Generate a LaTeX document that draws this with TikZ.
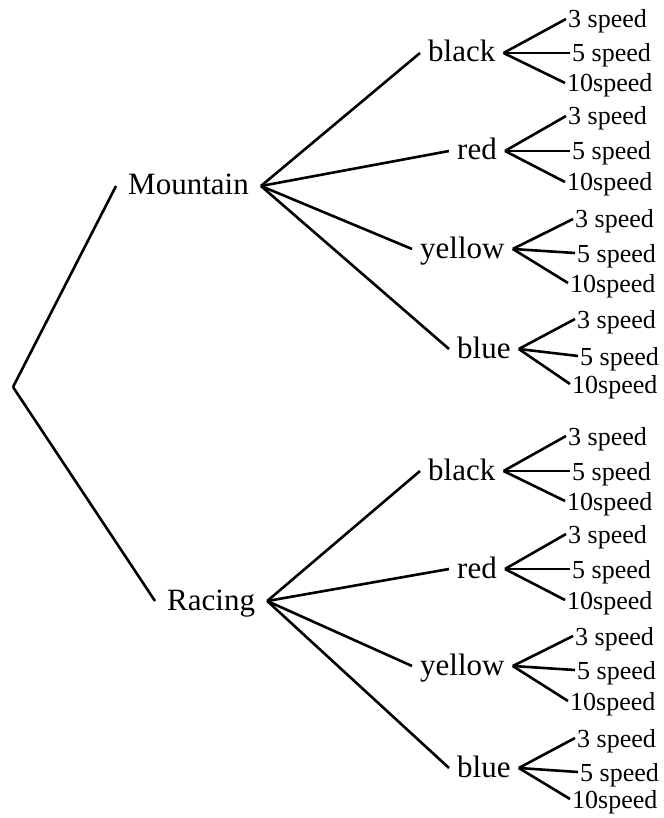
\documentclass[tikz,border=0pt]{standalone}
\usepackage{fontspec}
\setmainfont{Liberation Serif}

\begin{document}
\begin{tikzpicture}[
  x=1pt, y=-1pt,
  %% bike type labels
  typ/.style={
    font=\fontsize{31}{34}\selectfont,
    anchor=base west, inner xsep=12pt, inner ysep=0pt,
    text height=18pt, text depth=0pt
  },
  %% colour labels
  lvl/.style={
    font=\fontsize{31}{34}\selectfont,
    anchor=base west, inner xsep=8pt, inner ysep=0pt,
    text height=18pt, text depth=0pt
  },
  %% gear labels at the leaves
  spd/.style={
    font=\fontsize{26}{28}\selectfont,
    anchor=base west, inner xsep=2pt, inner ysep=0pt,
    text height=18pt, text depth=0pt
  },
  %% tree branches
  br/.style={line width=2.6pt},
]
\useasboundingbox (0,0) rectangle (663,818);

%%── Root and bike types ──────────────────────────────────────────────────────
\coordinate (root) at (13,387);
\node[typ] (mtn) at (116,195) {Mountain};
\node[typ] (rac) at (155,610) {Racing};

\draw[br] (root) -- (mtn.west);
\draw[br] (root) -- (rac.west);

%%══════════════════════════════════════════════════════════════════════════════
%%  MOUNTAIN
%%══════════════════════════════════════════════════════════════════════════════
\node[lvl] (m-black)  at (420,62)  {black};
\node[lvl] (m-red)    at (449,160) {red};
\node[lvl] (m-yellow) at (412,258) {yellow};
\node[lvl] (m-blue)   at (449,358) {blue};

\node[spd] (m-black-3)   at (566,28)  {3 speed};
\node[spd] (m-black-5)   at (570,62)  {5 speed};
\node[spd] (m-black-10)  at (565,92)  {10speed};

\node[spd] (m-red-3)     at (566,125) {3 speed};
\node[spd] (m-red-5)     at (570,160) {5 speed};
\node[spd] (m-red-10)    at (565,191) {10speed};

\node[spd] (m-yellow-3)  at (573,228) {3 speed};
\node[spd] (m-yellow-5)  at (575,262) {5 speed};
\node[spd] (m-yellow-10) at (568,292) {10speed};

\node[spd] (m-blue-3)    at (575,328) {3 speed};
\node[spd] (m-blue-5)    at (578,365) {5 speed};
\node[spd] (m-blue-10)   at (570,393) {10speed};

%%══════════════════════════════════════════════════════════════════════════════
%%  RACING
%%══════════════════════════════════════════════════════════════════════════════
\node[lvl] (r-black)  at (420,480) {black};
\node[lvl] (r-red)    at (449,578) {red};
\node[lvl] (r-yellow) at (412,675) {yellow};
\node[lvl] (r-blue)   at (449,777) {blue};

\node[spd] (r-black-3)   at (566,445) {3 speed};
\node[spd] (r-black-5)   at (570,480) {5 speed};
\node[spd] (r-black-10)  at (565,510) {10speed};

\node[spd] (r-red-3)     at (566,543) {3 speed};
\node[spd] (r-red-5)     at (570,578) {5 speed};
\node[spd] (r-red-10)    at (565,609) {10speed};

\node[spd] (r-yellow-3)  at (573,645) {3 speed};
\node[spd] (r-yellow-5)  at (575,679) {5 speed};
\node[spd] (r-yellow-10) at (568,710) {10speed};

\node[spd] (r-blue-3)    at (575,747) {3 speed};
\node[spd] (r-blue-5)    at (578,781) {5 speed};
\node[spd] (r-blue-10)   at (570,808) {10speed};

%%── Type → colour branches ──────────────────────────────────────────────────
\draw[br] (mtn.east) -- (m-black.west);
\draw[br] (mtn.east) -- (m-red.west);
\draw[br] (mtn.east) -- (m-yellow.west);
\draw[br] (mtn.east) -- (m-blue.west);

\draw[br] (rac.east) -- (r-black.west);
\draw[br] (rac.east) -- (r-red.west);
\draw[br] (rac.east) -- (r-yellow.west);
\draw[br] (rac.east) -- (r-blue.west);

%%── Colour → gear branches ──────────────────────────────────────────────────
\draw[br] (m-black.east)  -- (m-black-3.west);
\draw[br] (m-black.east)  -- (m-black-5.west);
\draw[br] (m-black.east)  -- (m-black-10.west);
\draw[br] (m-red.east)    -- (m-red-3.west);
\draw[br] (m-red.east)    -- (m-red-5.west);
\draw[br] (m-red.east)    -- (m-red-10.west);
\draw[br] (m-yellow.east) -- (m-yellow-3.west);
\draw[br] (m-yellow.east) -- (m-yellow-5.west);
\draw[br] (m-yellow.east) -- (m-yellow-10.west);
\draw[br] (m-blue.east)   -- (m-blue-3.west);
\draw[br] (m-blue.east)   -- (m-blue-5.west);
\draw[br] (m-blue.east)   -- (m-blue-10.west);

\draw[br] (r-black.east)  -- (r-black-3.west);
\draw[br] (r-black.east)  -- (r-black-5.west);
\draw[br] (r-black.east)  -- (r-black-10.west);
\draw[br] (r-red.east)    -- (r-red-3.west);
\draw[br] (r-red.east)    -- (r-red-5.west);
\draw[br] (r-red.east)    -- (r-red-10.west);
\draw[br] (r-yellow.east) -- (r-yellow-3.west);
\draw[br] (r-yellow.east) -- (r-yellow-5.west);
\draw[br] (r-yellow.east) -- (r-yellow-10.west);
\draw[br] (r-blue.east)   -- (r-blue-3.west);
\draw[br] (r-blue.east)   -- (r-blue-5.west);
\draw[br] (r-blue.east)   -- (r-blue-10.west);

\end{tikzpicture}
\end{document}
